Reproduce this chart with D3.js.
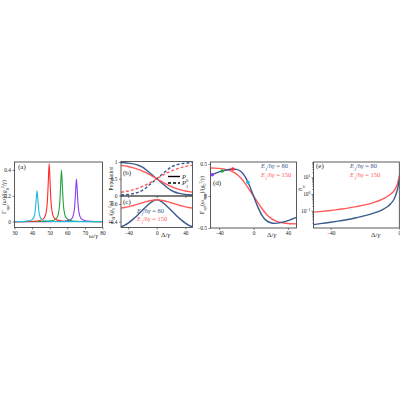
<!DOCTYPE html>
<html>
<head>
<meta charset="utf-8">
<script src="https://cdn.jsdelivr.net/npm/d3@7"></script>
<style>
body { margin: 0; background: #fff; }
svg text { font-family: "Liberation Serif", "DejaVu Serif", serif; fill: #222; }
</style>
</head>
<body>
<svg width="400" height="400"></svg>
<script>
// ---- data ----

// (a) optical spectrum peaks, one per detuning
var omegaCyan   = [30, 35, 38, 40, 41, 41.8, 42.3, 42.8, 43.3, 43.8, 44.6, 45.8, 48, 52, 60, 70, 80];
var gammaCyan   = [0.001, 0.002, 0.006, 0.016, 0.036, 0.086, 0.166, 0.24, 0.166, 0.086, 0.036, 0.014, 0.005, 0.002, 0.0005, 0.0002, 0.0001];
var omegaRed    = [30, 38, 43, 45.5, 46.9, 47.9, 48.7, 49.2, 49.7, 50.2, 50.7, 51.5, 52.5, 54.7, 58, 65, 80];
var gammaRed    = [0.0006, 0.0018, 0.0056, 0.014, 0.03, 0.067, 0.162, 0.31, 0.45, 0.31, 0.162, 0.067, 0.03, 0.01, 0.0036, 0.0011, 0.0003];
var omegaGreen  = [30, 45, 50, 52.5, 53.9, 54.9, 55.7, 56.2, 56.7, 57.2, 57.7, 58.5, 59.5, 61.7, 65, 72, 80];
var gammaGreen  = [0.0003, 0.0016, 0.005, 0.012, 0.027, 0.059, 0.144, 0.276, 0.4, 0.276, 0.144, 0.059, 0.027, 0.009, 0.0032, 0.001, 0.0004];
var omegaPurple = [30, 50, 58, 61, 62.4, 63.4, 64.2, 64.7, 65.2, 65.7, 66.2, 67, 68, 70.2, 73.5, 80];
var gammaPurple = [0.0002, 0.0008, 0.0035, 0.01, 0.022, 0.049, 0.119, 0.228, 0.33, 0.228, 0.119, 0.049, 0.022, 0.007, 0.0026, 0.0009];

// detuning grid shared by (b), (c), (d)
var delta = [-50, -45, -40, -35, -30, -25, -20, -15, -10, -5, 0, 5, 10, 15, 20, 25, 30, 35, 40, 45, 50];

// (b) populations
var p0Blue = [0.985, 0.978, 0.968, 0.952, 0.93, 0.895, 0.845, 0.77, 0.68, 0.59, 0.5, 0.41, 0.32, 0.23, 0.155, 0.105, 0.07, 0.048, 0.032, 0.022, 0.015];
var p1Blue = [0.015, 0.022, 0.032, 0.048, 0.07, 0.105, 0.155, 0.23, 0.32, 0.41, 0.5, 0.59, 0.68, 0.77, 0.845, 0.895, 0.93, 0.952, 0.968, 0.978, 0.985];
var p0Red  = [0.9, 0.885, 0.865, 0.84, 0.81, 0.775, 0.73, 0.68, 0.625, 0.565, 0.5, 0.435, 0.375, 0.32, 0.27, 0.225, 0.19, 0.16, 0.135, 0.115, 0.1];
var p1Red  = [0.1, 0.115, 0.135, 0.16, 0.19, 0.225, 0.27, 0.32, 0.375, 0.435, 0.5, 0.565, 0.625, 0.68, 0.73, 0.775, 0.81, 0.84, 0.865, 0.885, 0.9];

// (c) transition rate
var g01Blue = [0.345, 0.36, 0.385, 0.415, 0.45, 0.49, 0.53, 0.57, 0.605, 0.635, 0.648, 0.635, 0.605, 0.57, 0.53, 0.49, 0.45, 0.415, 0.385, 0.36, 0.345];
var g01Red  = [0.553, 0.56, 0.568, 0.578, 0.59, 0.602, 0.614, 0.626, 0.636, 0.644, 0.648, 0.644, 0.636, 0.626, 0.614, 0.602, 0.59, 0.578, 0.568, 0.56, 0.553];

// (d) peak optical rate
var optBlue = [0.318, 0.35, 0.376, 0.396, 0.41, 0.42, 0.415, 0.385, 0.305, 0.17, 0, -0.17, -0.305, -0.385, -0.418, -0.428, -0.42, -0.405, -0.385, -0.36, -0.335];
var optRed  = [0.436, 0.434, 0.43, 0.422, 0.408, 0.385, 0.345, 0.285, 0.2, 0.1, 0, -0.1, -0.2, -0.285, -0.345, -0.385, -0.408, -0.422, -0.43, -0.434, -0.436];
var dotDelta = [-48, -36.5, -24, -6.5];
var dotValue = [0.33, 0.39, 0.42, 0.215];
var dotColor = ['#8a3cf0', '#1fa33a', '#ff2a2a', '#20b8d8'];

// (e) occupation
var deltaE = [-50, -45, -40, -35, -30, -25, -20, -15, -10, -7, -5, -3, -2, -1, -0.5, 0];
var nBlue  = [0.0151, 0.0178, 0.0209, 0.0251, 0.0302, 0.0389, 0.0513, 0.0724, 0.115, 0.174, 0.263, 0.5, 0.89, 2.0, 3.55, 7.1];
var nRed   = [0.083, 0.093, 0.105, 0.123, 0.145, 0.178, 0.224, 0.309, 0.479, 0.708, 1.0, 1.58, 2.4, 4.17, 6.6, 12.6];

var legendValues = ['80', '150'];

// ---- drawing ----
var BLUE = '#3a5a8c', RED = '#ff5a5a';
var svg = d3.select('svg');
var clipId = 0;

function panel(l, r, t, b) {
    var id = 'clip' + (clipId++);
    svg.append('clipPath').attr('id', id)
        .append('rect').attr('x', l).attr('y', t).attr('width', r - l).attr('height', b - t);
    var g = svg.append('g');
    var plot = g.append('g').attr('clip-path', 'url(#' + id + ')');
    return {g: g, plot: plot, l: l, r: r, t: t, b: b};
}

function frame(p) {
    p.g.append('rect')
        .attr('x', p.l).attr('y', p.t)
        .attr('width', p.r - p.l).attr('height', p.b - p.t)
        .attr('fill', 'none').attr('stroke', '#333').attr('stroke-width', 0.8);
}

function styleAxis(sel) {
    sel.select('.domain').remove();
    sel.selectAll('.tick line').attr('stroke', '#333').attr('stroke-width', 0.6);
    sel.selectAll('.tick text').attr('font-size', 5.4).attr('fill', '#222');
}

function fmt(d) { return String(d).replace('-', '\u2212'); }

function drawLine(p, xs, ys, x, y, color, dash, width) {
    var pts = xs.map(function(d, i) { return [d, ys[i]]; });
    p.plot.append('path')
        .attr('d', d3.line().x(function(d) { return x(d[0]); }).y(function(d) { return y(d[1]); })
            .curve(d3.curveMonotoneX)(pts))
        .attr('fill', 'none').attr('stroke', color)
        .attr('stroke-width', width || 1.4)
        .attr('stroke-dasharray', dash || null);
}

function label(x, y, parts, opts) {
    opts = opts || {};
    var t = svg.append('text').attr('x', x).attr('y', y)
        .attr('font-size', opts.size || 6.5)
        .attr('text-anchor', opts.anchor || 'start');
    if (opts.rotate) t.attr('transform', 'rotate(-90,' + x + ',' + y + ')');
    if (opts.color) t.style('fill', opts.color);
    parts.forEach(function(pt) {
        if (typeof pt === 'string') { t.append('tspan').text(pt); return; }
        var s = t.append('tspan').text(pt.t);
        if (pt.sub) s.attr('baseline-shift', 'sub').attr('font-size', (opts.size || 6.5) * 0.7);
        if (pt.sup) s.attr('baseline-shift', 'super').attr('font-size', (opts.size || 6.5) * 0.7);
        if (pt.it) s.attr('font-style', 'italic');
    });
    return t;
}

function ejLegend(x, y, value, color, size) {
    label(x, y, [{t: 'E', it: true}, {t: 'J', sub: true, it: true}, '/', {t: '\u0127\u03b3', it: true}, ' = ' + value],
        {color: color, size: size || 6.5});
}

// (a)
var pa = panel(14.5, 102.5, 162, 227.5);
var xa = d3.scaleLinear().domain([30, 80]).range([pa.l, pa.r]);
var ya = d3.scaleLinear().domain([-0.045, 0.462]).range([pa.b, pa.t]);
drawLine(pa, omegaPurple, gammaPurple, xa, ya, '#8a3cf0', null, 1.1);
drawLine(pa, omegaGreen, gammaGreen, xa, ya, '#1fa33a', null, 1.1);
drawLine(pa, omegaRed, gammaRed, xa, ya, '#ff2a2a', null, 1.1);
drawLine(pa, omegaCyan, gammaCyan, xa, ya, '#20b8d8', null, 1.1);
svg.append('g').attr('transform', 'translate(0,' + pa.b + ')')
    .call(d3.axisBottom(xa).tickValues([30, 40, 50, 60, 70, 80]).tickSize(2).tickPadding(1.5)).call(styleAxis);
svg.append('g').attr('transform', 'translate(' + pa.l + ',0)')
    .call(d3.axisLeft(ya).tickValues([0, 0.2, 0.4]).tickFormat(d3.format('')).tickSize(2).tickPadding(1.5)).call(styleAxis);
frame(pa);
label(18, 168.5, ['(a)'], {size: 7});
label(89, 238, [{t: '\u03c9', it: true}, '/', {t: '\u03b3', it: true}], {size: 6.5});
label(6, 197, ['\u0393', {t: 'opt', sub: true}, '(', {t: '\u03c9', it: true}, ')/(', {t: 'g', it: true}, {t: '0', sub: true}, {t: '2', sup: true}, '/', {t: '\u03b3', it: true}, ')'],
    {rotate: true, anchor: 'middle', size: 6});

// (b)
var pb = panel(121, 192.5, 161.5, 196);
var xb = d3.scaleLinear().domain([-50, 50]).range([pb.l, pb.r]);
var yb = d3.scaleLinear().domain([-0.015, 1.015]).range([pb.b, pb.t]);
drawLine(pb, delta, p0Blue, xb, yb, BLUE);
drawLine(pb, delta, p0Red, xb, yb, RED);
drawLine(pb, delta, p1Blue, xb, yb, BLUE, '3,2');
drawLine(pb, delta, p1Red, xb, yb, RED, '3,2');
svg.append('g').attr('transform', 'translate(' + pb.l + ',0)')
    .call(d3.axisLeft(yb).tickValues([0, 0.5, 1]).tickFormat(d3.format('')).tickSize(2).tickPadding(1.5)).call(styleAxis);
svg.append('g').attr('transform', 'translate(0,' + pb.b + ')')
    .call(d3.axisBottom(xb).tickValues([-40, 0, 40]).tickFormat('').tickSize(2)).call(styleAxis);
frame(pb);
label(123, 175, ['(b)'], {size: 7});
svg.append('line').attr('x1', 168).attr('x2', 180).attr('y1', 176.5).attr('y2', 176.5).attr('stroke', '#000').attr('stroke-width', 1.4);
svg.append('line').attr('x1', 168).attr('x2', 180).attr('y1', 183).attr('y2', 183).attr('stroke', '#000').attr('stroke-width', 1.4).attr('stroke-dasharray', '3,2');
label(182, 178.5, [{t: 'P', it: true}, {t: '0', sub: true}], {size: 6.5});
label(182, 185, [{t: 'P', it: true}, {t: '1', sub: true}], {size: 6.5});
label(113, 178.5, ['Population'], {rotate: true, anchor: 'middle', size: 5.5});

// (c)
var pc = panel(121, 192.5, 196, 227.5);
var yc = d3.scaleLinear().domain([0.335, 0.69]).range([pc.b, pc.t]);
drawLine(pc, delta, g01Blue, xb, yc, BLUE);
drawLine(pc, delta, g01Red, xb, yc, RED);
svg.append('g').attr('transform', 'translate(' + pc.l + ',0)')
    .call(d3.axisLeft(yc).tickValues([0.4, 0.6]).tickFormat(d3.format('')).tickSize(2).tickPadding(1.5)).call(styleAxis);
svg.append('g').attr('transform', 'translate(0,' + pc.b + ')')
    .call(d3.axisBottom(xb).tickValues([-40, 0, 40]).tickFormat(fmt).tickSize(2).tickPadding(1.5)).call(styleAxis);
frame(pc);
label(123, 204, ['(c)'], {size: 7});
ejLegend(137, 213, legendValues[0], BLUE);
ejLegend(137, 221, legendValues[1], RED);
label(161, 237, ['\u0394/', {t: '\u03b3', it: true}], {size: 7});
label(113, 212, ['\u0393', {t: '01', sub: true}, '/(', {t: 'g', it: true}, {t: '0', sub: true}, {t: '2', sup: true}, '/', {t: '\u03b3', it: true}, ')'],
    {rotate: true, anchor: 'middle', size: 5.5});

// (d)
var pd = panel(210.5, 296.5, 162, 228);
var xd = d3.scaleLinear().domain([-50, 50]).range([pd.l, pd.r]);
var yd = d3.scaleLinear().domain([-0.5, 0.53]).range([pd.b, pd.t]);
drawLine(pd, delta, optRed, xd, yd, RED);
drawLine(pd, delta, optBlue, xd, yd, BLUE);
svg.append('g').selectAll('circle').data(dotDelta).enter().append('circle')
    .attr('cx', function(d) { return xd(d); })
    .attr('cy', function(d, i) { return yd(dotValue[i]); })
    .attr('r', 1.8)
    .attr('fill', function(d, i) { return dotColor[i]; });
svg.append('g').attr('transform', 'translate(' + pd.l + ',0)')
    .call(d3.axisLeft(yd).tickValues([-0.5, 0, 0.5]).tickFormat(fmt).tickSize(2).tickPadding(1.5)).call(styleAxis);
svg.append('g').attr('transform', 'translate(0,' + pd.b + ')')
    .call(d3.axisBottom(xd).tickValues([-40, 0, 40]).tickFormat(fmt).tickSize(2).tickPadding(1.5)).call(styleAxis);
frame(pd);
label(213, 185, ['(d)'], {size: 7});
ejLegend(261, 168, legendValues[0], BLUE);
ejLegend(261, 177, legendValues[1], RED);
label(267, 237, ['\u0394/', {t: '\u03b3', it: true}], {size: 7});
label(204, 195, ['\u0393', {t: 'opt', sub: true}, '(', {t: '\u03c9', it: true}, {t: 'max', sub: true}, ')/(', {t: 'g', it: true}, {t: '0', sub: true}, {t: '2', sup: true}, '/', {t: '\u03b3', it: true}, ')'],
    {rotate: true, anchor: 'middle', size: 5.5});

// (e)
var pe = panel(313.5, 399.3, 162, 228);
var xe = d3.scaleLinear().domain([-50, 0]).range([pe.l, pe.r]);
var ye = d3.scaleLog().domain([0.0095, 80]).range([pe.b, pe.t]);
drawLine(pe, deltaE, nRed, xe, ye, RED);
drawLine(pe, deltaE, nBlue, xe, ye, BLUE);
var majors = [0.1, 1, 10];
var minors = ye.ticks().filter(function(d) { return majors.indexOf(d) < 0 && Math.abs(Math.log10(d) % 1) > 1e-6; });
svg.append('g').attr('transform', 'translate(' + pe.l + ',0)')
    .call(d3.axisLeft(ye).tickValues(minors).tickFormat('').tickSize(1.2)).call(styleAxis);
var ay = svg.append('g').attr('transform', 'translate(' + pe.l + ',0)')
    .call(d3.axisLeft(ye).tickValues(majors).tickFormat('').tickSize(2)).call(styleAxis);
ay.selectAll('.tick').each(function(d) {
    var t = d3.select(this).append('text').attr('x', -3).attr('dy', '0.32em')
        .attr('text-anchor', 'end').attr('font-size', 5.4).style('fill', '#222');
    t.append('tspan').text('10');
    t.append('tspan').attr('baseline-shift', 'super').attr('font-size', 3.9).text(fmt(Math.round(Math.log10(d))));
});
svg.append('g').attr('transform', 'translate(0,' + pe.b + ')')
    .call(d3.axisBottom(xe).tickValues([-40, 0]).tickFormat(fmt).tickSize(2).tickPadding(1.5)).call(styleAxis);
frame(pe);
label(316, 168, ['(e)'], {size: 7});
ejLegend(350, 168, legendValues[0], BLUE);
ejLegend(350, 177, legendValues[1], RED);
label(371, 237, ['\u0394/', {t: '\u03b3', it: true}], {size: 7});
label(302, 188, [{t: 'n\u0304', it: true}, {t: 'm', sub: true, it: true}], {rotate: true, anchor: 'middle', size: 6});
</script>
</body>
</html>
